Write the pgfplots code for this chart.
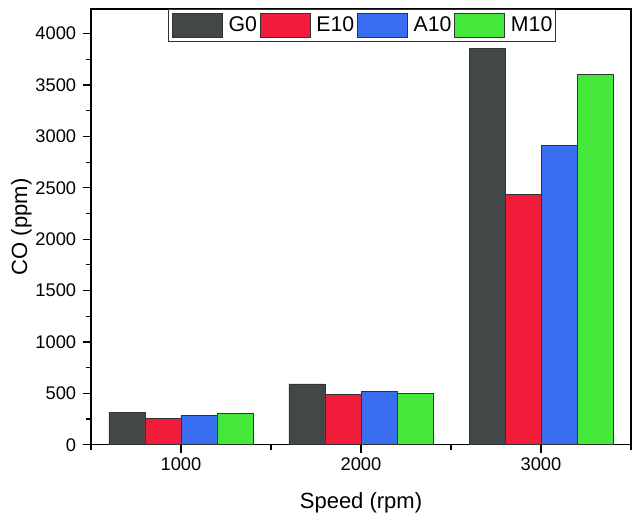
\documentclass[border=0pt]{standalone}
\usepackage{pgfplots}
\pgfplotsset{compat=1.18}
\usepackage{fontspec}
\setmainfont{Liberation Sans}
\definecolor{cG}{RGB}{66,72,72}
\definecolor{cE}{RGB}{240,28,58}
\definecolor{cA}{RGB}{58,110,240}
\definecolor{cM}{RGB}{68,232,58}
\begin{document}
\begin{tikzpicture}
\begin{axis}[
  scale only axis, width=540pt, height=435.7pt,
  at={(0pt,0pt)}, anchor=south west,
  xmin=500, xmax=3500, ymin=0, ymax=4240,
  ybar, bar width=200,
  xtick={1000,2000,3000}, minor xtick={500,1500,2500,3500},
  ytick={0,500,...,4000}, minor ytick={250,750,...,3750},
  xtick pos=bottom, ytick pos=left, tick align=outside,
  major tick length=8.3pt, minor tick length=5pt,
  every tick/.style={black, line width=1.2pt},
  axis line style={line width=1.4pt},
  /pgf/number format/assume math mode=true,
  /pgf/number format/1000 sep={},
  tick label style={font=\fontsize{18.3}{22}\selectfont},
  xticklabel style={yshift=-1pt},
  yticklabel style={xshift=-3pt},
  xlabel={Speed (rpm)}, ylabel={CO (ppm)},
  label style={font=\fontsize{22}{26}\selectfont},
  xlabel style={at={(axis description cs:0.5,-0.133)}, anchor=center},
  ylabel style={at={(axis description cs:-0.129,0.5)}, anchor=center},
  legend columns=4,
  legend style={at={(0.502,1)}, anchor=north, draw=black!80, line width=0.8pt,
    font=\fontsize{21.3}{24}\selectfont, inner xsep=3.4pt, inner ysep=3.2pt,
    nodes={inner xsep=0pt, inner ysep=0pt},
    /tikz/every odd column/.append style={column sep=6pt},
    /tikz/every even column/.append style={column sep=2.6pt}},
  legend image code/.code={\draw[#1, line width=0.8pt] (0pt,-12.3pt) rectangle (50pt,12.3pt);},
  legend cell align=left,
]
\addplot[fill=cG, draw=black!80, line width=0.8pt, bar shift=-300] coordinates {(1000,311) (2000,591) (3000,3852)};
\addplot[fill=cE, draw=black!80, line width=0.8pt, bar shift=-100] coordinates {(1000,257) (2000,493) (3000,2437)};
\addplot[fill=cA, draw=black!80, line width=0.8pt, bar shift=100] coordinates {(1000,282) (2000,520) (3000,2908)};
\addplot[fill=cM, draw=black!80, line width=0.8pt, bar shift=300] coordinates {(1000,305) (2000,500) (3000,3601)};
\legend{G0,E10,A10,M10}
\end{axis}
\path (-91pt,-77.3pt) rectangle (549pt,444.7pt);
\end{tikzpicture}
\end{document}
